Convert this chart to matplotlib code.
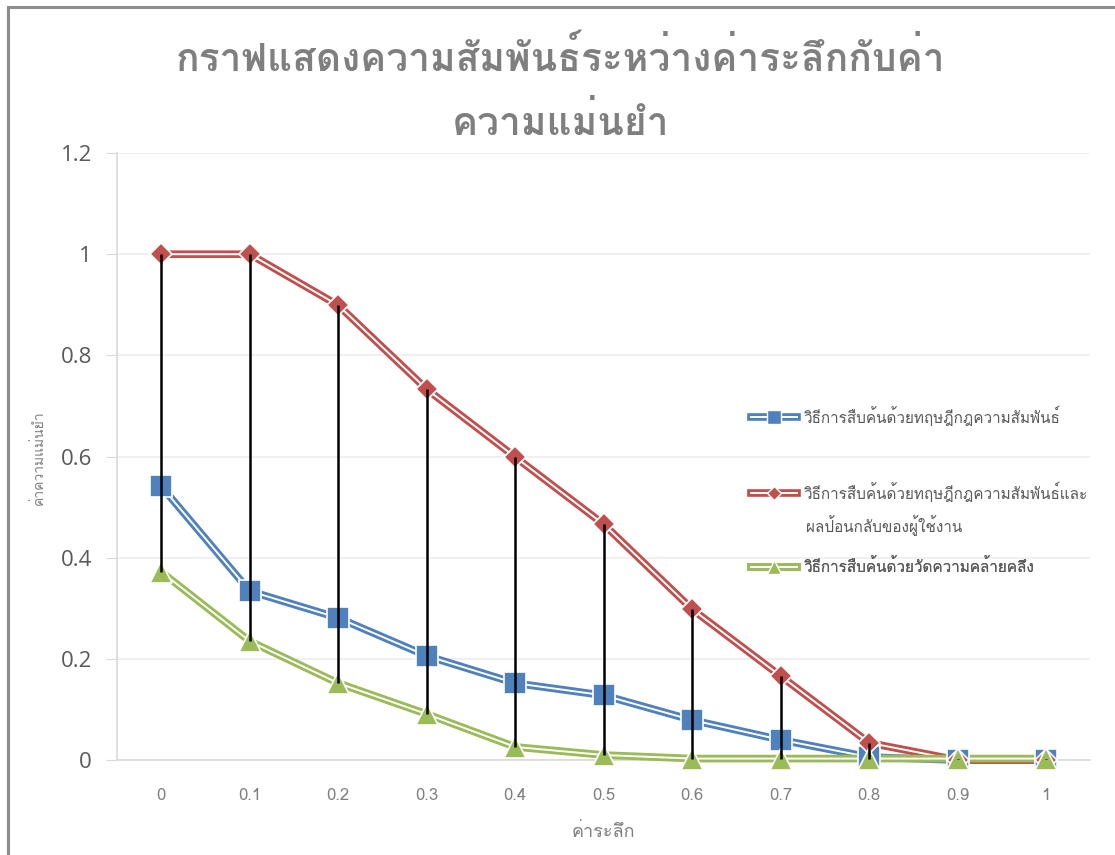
import matplotlib
matplotlib.use("Agg")
import matplotlib.pyplot as plt
import matplotlib.patheffects as pe
from matplotlib import font_manager as fm
from matplotlib.ft2font import FT2Font
from matplotlib.patches import Rectangle
from matplotlib.legend_handler import HandlerTuple

# recall levels on the category axis
recall = ["0", "0.1", "0.2", "0.3", "0.4", "0.5", "0.6", "0.7", "0.8", "0.9", "1"]

# precision of each retrieval method
assoc_rules = [0.541, 0.334, 0.281, 0.206, 0.152, 0.128, 0.079, 0.040, 0.006, 0.0, 0.0]
assoc_feedback = [1.0, 1.0, 0.899, 0.733, 0.599, 0.466, 0.298, 0.166, 0.034, 0.0, 0.0]
similarity = [0.372, 0.235, 0.152, 0.091, 0.026, 0.010, 0.003, 0.003, 0.003, 0.003, 0.003]

labels = [
    "วิธีการสืบค้นด้วยทฤษฎีกฎความสัมพันธ์",
    "วิธีการสืบค้นด้วยทฤษฎีกฎความสัมพันธ์และ",
    "วิธีการสืบค้นด้วยวัดความคล้ายคลึง",
]
label2_cont = "ผลป้อนกลับของผู้ใช้งาน"
colors = ["#4f81bd", "#c0504d", "#9bbb59"]
markers = ["s", "D", "^"]
msizes = [16, 11, 16]
leg_msizes = [10, 7, 10]

title = "กราฟแสดงความสัมพันธ์ระหว่างค่าระลึกกับค่า\nความแม่นยำ"
xlabel = "ค่าระลึก"
ylabel = "ค่าความแม่นยำ"

# pick any installed font that has Thai glyphs
thai_fonts = []
for f in fm.fontManager.ttflist:
    try:
        if 0x0E01 in FT2Font(f.fname).get_charmap() and f.name not in thai_fonts:
            thai_fonts.append(f.name)
    except Exception:
        pass
plt.rcParams["font.family"] = thai_fonts + ["DejaVu Sans"]

grey = "#595959"
fig = plt.figure(figsize=(11.15, 8.55), dpi=100)
ax = fig.add_axes([0.105, 0.111, 0.873, 0.710])

x = list(range(len(recall)))
series = [assoc_rules, assoc_feedback, similarity]
double = lambda c: [pe.Stroke(linewidth=5.5, foreground=c), pe.Normal()]
for ys, c, m, ms in zip(series, colors, markers, msizes):
    ax.plot(x, ys, color="white", lw=1.4, zorder=3, path_effects=double(c), clip_on=False)
    ax.plot(x, ys, ls="none", marker=m, ms=ms, color=c, mec="white", mew=1.2,
            zorder=4, clip_on=False)

# high-low lines between the top and bottom series
hi = [max(v) for v in zip(*series)]
lo = [min(v) for v in zip(*series)]
ax.vlines(x, lo, hi, color="black", lw=1.8, zorder=5)

ax.set_xlim(-0.5, len(recall) - 0.5)
ax.set_ylim(0, 1.2)
ax.set_yticks([0, 0.2, 0.4, 0.6, 0.8, 1.0, 1.2])
ax.set_yticklabels(["0", "0.2", "0.4", "0.6", "0.8", "1", "1.2"],
                   fontsize=16, color=grey, family="Open Sans")
ax.set_xticks(x)
ax.set_xticklabels(recall, fontsize=12, color="#7f7f7f")
ax.tick_params(axis="x", length=0, pad=20)
ax.tick_params(axis="y", length=8, color="#d9d9d9", pad=10)
ax.grid(axis="y", color="#eeeeee", lw=1.2)
ax.set_axisbelow(True)
for s in ["top", "right"]:
    ax.spines[s].set_visible(False)
for s in ["left", "bottom"]:
    ax.spines[s].set_color("#d9d9d9")
    ax.spines[s].set_linewidth(1.2)

ax.set_xlabel(xlabel, fontsize=13, color="#7f7f7f", labelpad=14)
fig.text(0.034, 0.465, ylabel, rotation=90, fontsize=10, color="#7f7f7f",
         ha="center", va="center")

fig.text(0.503, 0.895, title, fontsize=28, color="#7f7f7f", fontweight="bold",
         ha="center", va="center", linespacing=1.75)

# one legend box per entry so each row sits at its own height
legend_tops = [0.542, 0.453, 0.363]
for lab, c, m, ms, top in zip(labels, colors, markers, leg_msizes, legend_tops):
    ln, = ax.plot([], [], color="white", lw=1.4, path_effects=double(c))
    mk, = ax.plot([], [], ls="none", marker=m, ms=ms, color=c, mec="white", mew=1.0)
    leg = ax.legend([(ln, mk)], [lab], handler_map={tuple: HandlerTuple(ndivide=1)},
                    loc="upper left", bbox_to_anchor=(0.661, top),
                    bbox_transform=fig.transFigure, frameon=False, fontsize=11,
                    handlelength=3.0, handletextpad=0.5)
    for t in leg.get_texts():
        t.set_color(grey)
    ax.add_artist(leg)

# wrapped second line of the long legend label
fig.text(0.7225, 1 - 526 / 855, label2_cont, fontsize=11, color=grey,
         ha="left", va="center")

# outer chart frame
fig.add_artist(Rectangle((8 / 1115, -0.1), 1.2, 1.1 - 7 / 855, transform=fig.transFigure,
                         fill=False, ec="#8c8c8c", lw=2.2, clip_on=False))

fig.savefig("out.png", dpi=100)
